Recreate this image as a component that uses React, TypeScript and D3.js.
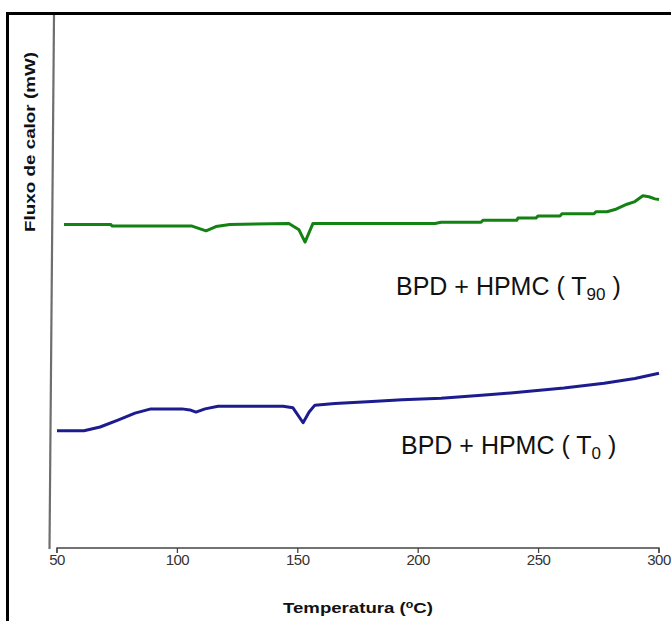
import React from "react";
import * as d3 from "d3";

const tempTicks = [50, 100, 150, 200, 250, 300];

// T90 (green) DSC curve: temperature (°C), heat flow (arbitrary mW units)
const t90Temp = [52.9, 72.4, 72.8, 106.1, 111.9, 116.0, 121.8, 146.3, 150.5, 153.0, 156.3, 207.0, 209.5, 226.1, 226.9, 241.0, 241.4, 248.9, 249.8, 258.9, 259.7, 273.0, 273.8, 278.4, 281.7, 286.7, 290.0, 293.3, 295.8, 298.3, 300];
const t90Flow = [6.07, 6.07, 6.04, 6.04, 5.95, 6.03, 6.07, 6.09, 5.97, 5.74, 6.09, 6.09, 6.11, 6.11, 6.15, 6.15, 6.19, 6.19, 6.23, 6.23, 6.27, 6.27, 6.31, 6.31, 6.35, 6.45, 6.50, 6.61, 6.59, 6.55, 6.54];

// T0 (blue) DSC curve
const t0Temp = [50, 61.2, 67.9, 75.3, 82.4, 89.0, 101.9, 105.2, 107.7, 111.5, 116.9, 143.9, 148.0, 152.2, 154.7, 157.1, 165.4, 180.8, 193.3, 209.5, 227.7, 243.9, 260.5, 277.2, 290.0, 300];
const t0Flow = [2.20, 2.20, 2.27, 2.40, 2.53, 2.61, 2.61, 2.59, 2.55, 2.61, 2.66, 2.66, 2.63, 2.35, 2.55, 2.68, 2.71, 2.75, 2.78, 2.81, 2.87, 2.93, 3.00, 3.09, 3.18, 3.28];

const xLabel = "Temperatura (";
const yLabel = "Fluxo de calor (mW)";
const seriesName = "BPD + HPMC ( T";

export default function App() {
  const W = 671, H = 621;
  const x = d3.scaleLinear().domain([50, 300]).range([57, 659]);
  const y = d3.scaleLinear().domain([0, 10]).range([548, 15]);
  const line = d3.line<[number, number]>().x(d => x(d[0])).y(d => y(d[1]));
  const g = t90Temp.map((t, i) => [t, t90Flow[i]] as [number, number]);
  const b = t0Temp.map((t, i) => [t, t0Flow[i]] as [number, number]);
  const font = "'Liberation Sans', Arial, sans-serif";
  const x0 = x(50), x1 = x(300), ay = y(0);
  return (
    <svg width={W} height={H} style={{ position: "absolute", left: 0, top: 0, background: "#fff" }} fontFamily={font}>
      <rect x={0} y={0} width={W} height={H} fill="#fff" />
      {/* frame */}
      <rect x={7.5} y={13.5} width={W + 20} height={H + 20} fill="none" stroke="#000" strokeWidth={3} />
      {/* slanted y axis line */}
      <line x1={54} y1={15} x2={49.5} y2={549} stroke="#6e6e6e" strokeWidth={2.2} />
      {/* x axis */}
      <path d={`M${x0},${ay + 5}V${ay}H${x1}V${ay + 5}`} fill="none" stroke="#444" strokeWidth={1.3} />
      {tempTicks.map(t => (
        <g key={t}>
          <line x1={x(t)} x2={x(t)} y1={ay} y2={ay + 5} stroke="#444" strokeWidth={1.3} />
          <text x={x(t)} y={ay + 17} textAnchor="middle" fontSize={15} fill="#333" letterSpacing={-0.5}>{t}</text>
        </g>
      ))}
      <text x={283} y={613} fontSize={15} fontWeight="bold" fill="#111" textLength={150} lengthAdjust="spacingAndGlyphs">
        {xLabel}<tspan dy={-5} fontSize={10}>o</tspan><tspan dy={5}>C)</tspan>
      </text>
      <text transform={`translate(35,142) rotate(-90)`} textAnchor="middle" fontSize={15} fontWeight="bold" fill="#111" textLength={180} lengthAdjust="spacingAndGlyphs">{yLabel}</text>
      {/* curves */}
      <path d={line(g) || ""} fill="none" stroke="#138213" strokeWidth={3} strokeLinejoin="round" />
      <path d={line(b) || ""} fill="none" stroke="#1c1c8e" strokeWidth={3} strokeLinejoin="round" />
      {/* labels */}
      <text x={396} y={295} fontSize={25} fill="#111">
        {seriesName}<tspan dy={5} fontSize={17}>90</tspan><tspan dy={-5}> )</tspan>
      </text>
      <text x={401} y={454} fontSize={25} fill="#111">
        {seriesName}<tspan dy={5} fontSize={17}>0</tspan><tspan dy={-5}> )</tspan>
      </text>
    </svg>
  );
}
